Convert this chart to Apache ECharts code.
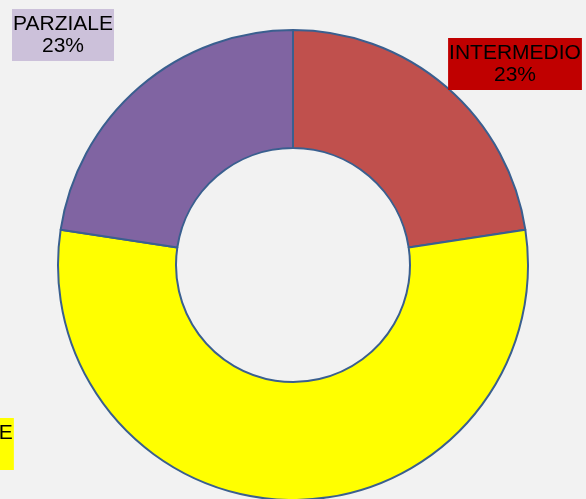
<!DOCTYPE html>
<html>
<head>
<meta charset="utf-8">
<script src="https://cdn.jsdelivr.net/npm/echarts@6/dist/echarts.min.js"></script>
<style>
html,body{margin:0;padding:0;background:#f2f2f2;}
#main{width:586px;height:499px;}
</style>
</head>
<body>
<div id="main"></div>
<script>
// categories and values, clockwise from the top
const categories = ['INTERMEDIO', 'TOTALE', 'PARZIALE'];
const values = [22.6, 54.8, 22.6];

const sliceColors = ['#c0504d', '#ffff00', '#8064a2'];
const labelBg = ['#c00000', '#ffff00', '#ccc1da'];
// label box centres
const labelPos = [[515, 64], [-27, 444], [63, 35]];

function buildData(){
	let arr = [];
	categories.map((name, i)=>{
		arr.push({
			name: name,
			value: values[i],
			itemStyle: { color: sliceColors[i] },
			label: { backgroundColor: labelBg[i] }
		});
	});
	return arr;
}

const myChart = echarts.init(document.getElementById('main'));
myChart.setOption({
	backgroundColor: '#f2f2f2',
	animation: false,
	series: [{
		type: 'pie',
		center: [293, 265],
		radius: [117, 235],
		startAngle: 90,
		clockwise: true,
		avoidLabelOverlap: false,
		itemStyle: {
			borderColor: '#3a5f8f',
			borderWidth: 2
		},
		label: {
			show: true,
			position: 'outside',
			formatter: (p)=> p.name + '\n' + Math.round(p.percent) + '%',
			color: '#000',
			fontFamily: 'Liberation Sans',
			fontSize: 21,
			lineHeight: 22,
			align: 'center',
			overflow: 'none',
			padding: [4, 1, 4, 1]
		},
		labelLine: { show: false },
		labelLayout: (params)=>{
			let p = labelPos[params.dataIndex];
			return {
				x: p[0],
				y: p[1],
				align: 'center',
				verticalAlign: 'middle'
			};
		},
		emphasis: { disabled: true },
		data: buildData()
	}]
});
</script>
</body>
</html>
